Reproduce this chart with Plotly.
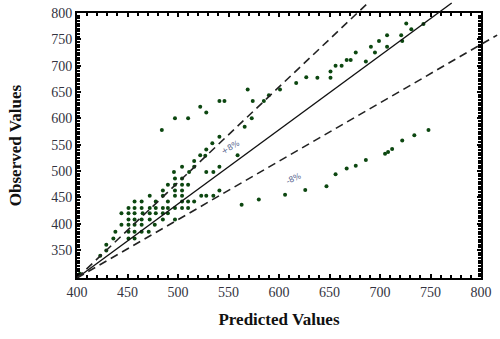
import plotly.graph_objects as go

# ---- data ----
predicted = [
    726, 743, 731, 707, 721, 699, 722, 691, 707, 676, 695, 667, 671, 686, 656, 662, 651, 627, 638, 651,
    617, 601, 590, 585, 574, 573,
    748, 734, 722, 712, 708, 705, 686, 676, 667, 656, 647, 626, 606, 580, 563,
    569, 484, 497, 510, 522, 528, 541, 546, 566, 541, 534, 528, 522, 527, 516, 516, 504, 541, 559,
    496, 511, 528, 535,
    497, 504,
    490, 497, 504, 510,
    485, 497, 504, 541,
    472, 485, 497, 504, 523, 528, 535,
    457, 464, 478, 490, 504, 510, 516,
    451, 457, 464, 472, 478, 485, 490, 497, 504, 510,
    444, 451, 457, 465, 472, 478, 485, 490,
    451, 457, 464, 472, 485, 497,
    444, 451, 457, 464, 477,
    438, 451, 457, 464, 471,
    436, 451, 457,
    429, 429, 423, 403,
]
observed = [
    780, 779, 769, 758, 758, 747, 747, 736, 736, 725, 725, 711, 711, 708, 700, 700, 689, 678, 677, 677,
    667, 655, 644, 633, 633, 600,
    578, 568, 558, 542, 536, 533, 521, 510, 505, 494, 471, 464, 455, 446, 436,
    655, 578, 600, 600, 622, 611, 633, 633, 584, 565, 553, 541, 530, 529, 519, 508, 508, 508, 530,
    498, 498, 498, 498,
    486, 486,
    474, 474, 474, 474,
    463, 463, 463, 463,
    453, 453, 453, 453, 453, 453, 453,
    442, 442, 442, 442, 442, 442, 442,
    430, 430, 430, 430, 430, 430, 430, 430, 430, 430,
    420, 420, 420, 420, 420, 420, 420, 420,
    408, 408, 408, 408, 408, 408,
    398, 398, 398, 398, 398,
    385, 385, 385, 385, 385,
    372, 372, 372,
    360, 349, 339, 305,
]

# reference lines (end points)
line_x = [400, 771]
line_y = [297, 819]
upper_x = [400, 688]
upper_y = [297, 819]
lower_x = [400, 816]
lower_y = [297, 758]

x_ticks = [400, 450, 500, 550, 600, 650, 700, 750, 800]
y_ticks = [350, 400, 450, 500, 550, 600, 650, 700, 750, 800]

# ---- geometry (page body margin removed in post_script) ----
W, H = 500, 339
ML, MR, MT, MB = 77, 0, 0, 61
PW, PH = W - ML - MR, H - MT - MB
XR = [400, 800]
YR = [297, 800]
frame_w, frame_h = 404, 265
xdom = [0, frame_w / PW]
ydom = [0, frame_h / PH]
x2r = [XR[0], XR[0] + (XR[1] - XR[0]) * PW / frame_w]
y2r = [YR[0], YR[0] + (YR[1] - YR[0]) * PH / frame_h]

tickfont = dict(family="Liberation Serif", size=14, color="#333340")
titlefont = dict(family="Liberation Serif", size=17, color="#111111", weight="bold")

fig = go.Figure()

fig.add_trace(go.Scatter(x=line_x, y=line_y, mode="lines", xaxis="x2", yaxis="y2",
                         line=dict(color="#111111", width=1.4), showlegend=False, hoverinfo="skip"))
fig.add_trace(go.Scatter(x=upper_x, y=upper_y, mode="lines", xaxis="x2", yaxis="y2",
                         line=dict(color="#222222", width=1.6, dash="8px,5px"), showlegend=False, hoverinfo="skip"))
fig.add_trace(go.Scatter(x=lower_x, y=lower_y, mode="lines", xaxis="x2", yaxis="y2",
                         line=dict(color="#222222", width=1.6, dash="8px,5px"), showlegend=False, hoverinfo="skip"))

fig.add_trace(go.Scatter(x=predicted, y=observed, mode="markers", xaxis="x", yaxis="y",
                         marker=dict(color="#0c4710", size=4), showlegend=False, cliponaxis=False))

axis_common = dict(showgrid=False, zeroline=False, showline=True, linecolor="black", linewidth=2,
                   mirror="ticks", ticks="inside", ticklen=4, tickcolor="black", tickwidth=1.5,
                   tickfont=tickfont, automargin=False, ticklabeloverflow="allow")

fig.update_layout(
    width=W, height=H,
    margin=dict(l=ML, r=MR, t=MT, b=MB, autoexpand=False),
    paper_bgcolor="white", plot_bgcolor="rgba(0,0,0,0)",
    xaxis=dict(domain=xdom, range=XR, anchor="y", tickmode="array", tickvals=x_ticks,
               ticktext=[str(v) for v in x_ticks],
               minor=dict(tickmode="linear", tick0=400, dtick=10, ticks="inside", ticklen=3,
                          tickcolor="black", tickwidth=1.5),
               title=dict(text="Predicted Values", font=titlefont, standoff=14),
               **axis_common),
    yaxis=dict(domain=ydom, range=YR, anchor="x", tickmode="array", tickvals=y_ticks,
               ticktext=[str(v) for v in y_ticks],
               minor=dict(tickmode="linear", tick0=300, dtick=5, ticks="inside", ticklen=3,
                          tickcolor="black", tickwidth=1.5),
               title=dict(text="Observed Values", font=titlefont, standoff=25),
               **axis_common),
    xaxis2=dict(domain=[0, 1], range=x2r, anchor="y2", visible=False, fixedrange=True, automargin=False),
    yaxis2=dict(domain=[0, 1], range=y2r, anchor="x2", visible=False, fixedrange=True, automargin=False),
    annotations=[
        dict(x=552, y=544, xref="x", yref="y", text="+8%", showarrow=False, textangle=-30,
             font=dict(family="DejaVu Sans", size=8, color="#5a6890")),
        dict(x=615, y=485, xref="x", yref="y", text="-8%", showarrow=False, textangle=-25,
             font=dict(family="DejaVu Sans", size=8, color="#5a6890")),
    ],
)

fig.write_html("out.html",
               config={"displayModeBar": False},
               post_script="document.body.style.margin='0px'; document.body.style.overflow='hidden';")
